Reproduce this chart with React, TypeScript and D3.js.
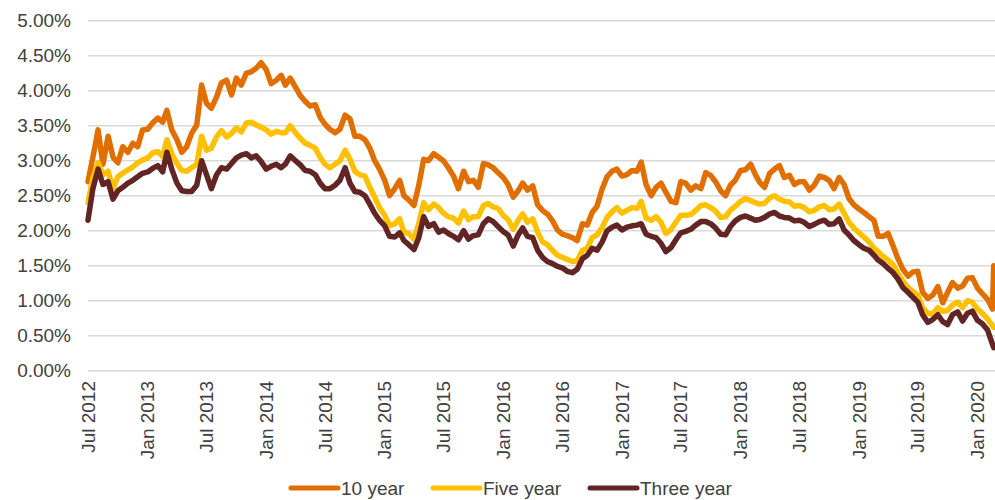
import React from "react";
import * as d3 from "d3";

const dates = [
  "2012-07-01","2012-07-16","2012-08-01","2012-08-16","2012-09-01","2012-09-16","2012-10-01","2012-10-16","2012-11-01","2012-11-16","2012-12-01","2012-12-16",
  "2013-01-01","2013-01-16","2013-02-01","2013-02-16","2013-03-01","2013-03-16","2013-04-01","2013-04-16","2013-05-01","2013-05-16","2013-06-01","2013-06-16",
  "2013-07-01","2013-07-16","2013-08-01","2013-08-16","2013-09-01","2013-09-16","2013-10-01","2013-10-16","2013-11-01","2013-11-16","2013-12-01","2013-12-16",
  "2014-01-01","2014-01-16","2014-02-01","2014-02-16","2014-03-01","2014-03-16","2014-04-01","2014-04-16","2014-05-01","2014-05-16","2014-06-01","2014-06-16",
  "2014-07-01","2014-07-16","2014-08-01","2014-08-16","2014-09-01","2014-09-16","2014-10-01","2014-10-16","2014-11-01","2014-11-16","2014-12-01","2014-12-16",
  "2015-01-01","2015-01-16","2015-02-01","2015-02-16","2015-03-01","2015-03-16","2015-04-01","2015-04-16","2015-05-01","2015-05-16","2015-06-01","2015-06-16",
  "2015-07-01","2015-07-16","2015-08-01","2015-08-16","2015-09-01","2015-09-16","2015-10-01","2015-10-16","2015-11-01","2015-11-16","2015-12-01","2015-12-16",
  "2016-01-01","2016-01-16","2016-02-01","2016-02-16","2016-03-01","2016-03-16","2016-04-01","2016-04-16","2016-05-01","2016-05-16","2016-06-01","2016-06-16",
  "2016-07-01","2016-07-16","2016-08-01","2016-08-16","2016-09-01","2016-09-16","2016-10-01","2016-10-16","2016-11-01","2016-11-16","2016-12-01","2016-12-16",
  "2017-01-01","2017-01-16","2017-02-01","2017-02-16","2017-03-01","2017-03-16","2017-04-01","2017-04-16","2017-05-01","2017-05-16","2017-06-01","2017-06-16",
  "2017-07-01","2017-07-16","2017-08-01","2017-08-16","2017-09-01","2017-09-16","2017-10-01","2017-10-16","2017-11-01","2017-11-16","2017-12-01","2017-12-16",
  "2018-01-01","2018-01-16","2018-02-01","2018-02-16","2018-03-01","2018-03-16","2018-04-01","2018-04-16","2018-05-01","2018-05-16","2018-06-01","2018-06-16",
  "2018-07-01","2018-07-16","2018-08-01","2018-08-16","2018-09-01","2018-09-16","2018-10-01","2018-10-16","2018-11-01","2018-11-16","2018-12-01","2018-12-16",
  "2019-01-01","2019-01-16","2019-02-01","2019-02-16","2019-03-01","2019-03-16","2019-04-01","2019-04-16","2019-05-01","2019-05-16","2019-06-01","2019-06-16",
  "2019-07-01","2019-07-16","2019-08-01","2019-08-16","2019-09-01","2019-09-16","2019-10-01","2019-10-16","2019-11-01","2019-11-16","2019-12-01","2019-12-16",
  "2020-01-01","2020-01-16","2020-02-01","2020-02-16","2020-02-20",
];

const tenYear = [
  2.70,3.05,3.44,2.95,3.35,3.05,2.97,3.20,3.12,3.25,3.20,3.44,
  3.45,3.54,3.61,3.55,3.72,3.44,3.30,3.12,3.20,3.39,3.51,4.08,
  3.82,3.75,3.91,4.11,4.15,3.94,4.18,4.08,4.25,4.27,4.32,4.40,
  4.30,4.10,4.15,4.22,4.08,4.18,4.05,3.93,3.85,3.78,3.80,3.62,
  3.52,3.45,3.40,3.45,3.65,3.60,3.35,3.35,3.30,3.18,3.00,2.88,
  2.72,2.50,2.60,2.72,2.50,2.44,2.36,2.65,3.02,3.00,3.10,3.05,
  3.00,2.90,2.78,2.60,2.85,2.70,2.72,2.62,2.96,2.94,2.90,2.83,
  2.76,2.66,2.48,2.57,2.68,2.58,2.64,2.37,2.29,2.24,2.14,2.01,
  1.95,1.93,1.90,1.86,2.10,2.08,2.26,2.35,2.60,2.77,2.85,2.88,
  2.78,2.80,2.86,2.85,2.98,2.66,2.50,2.62,2.68,2.55,2.42,2.40,
  2.70,2.68,2.58,2.64,2.60,2.83,2.79,2.70,2.57,2.50,2.65,2.72,
  2.86,2.87,2.95,2.80,2.69,2.62,2.82,2.88,2.93,2.76,2.79,2.66,
  2.70,2.70,2.58,2.65,2.78,2.76,2.72,2.60,2.76,2.66,2.46,2.37,
  2.31,2.26,2.20,2.15,1.92,1.92,1.96,1.78,1.60,1.45,1.35,1.41,
  1.42,1.12,1.03,1.08,1.20,0.97,1.12,1.26,1.18,1.21,1.32,1.33,
  1.18,1.10,1.02,0.88,1.50,
];

const fiveYear = [
  2.40,2.75,2.97,2.80,2.85,2.60,2.77,2.82,2.87,2.91,2.97,3.01,
  3.04,3.11,3.13,3.06,3.30,3.10,2.96,2.86,2.85,2.90,2.95,3.35,
  3.15,3.18,3.34,3.43,3.34,3.39,3.47,3.41,3.54,3.55,3.51,3.48,
  3.44,3.38,3.42,3.40,3.40,3.50,3.40,3.32,3.25,3.22,3.18,3.05,
  2.95,2.90,2.95,3.00,3.15,3.02,2.85,2.80,2.78,2.62,2.48,2.33,
  2.22,2.07,2.10,2.17,1.98,1.96,1.88,2.10,2.40,2.30,2.38,2.33,
  2.25,2.20,2.18,2.11,2.28,2.16,2.20,2.20,2.36,2.39,2.34,2.32,
  2.22,2.16,2.02,2.15,2.24,2.12,2.17,1.98,1.84,1.80,1.72,1.65,
  1.62,1.59,1.56,1.57,1.72,1.75,1.90,1.94,2.05,2.19,2.27,2.33,
  2.25,2.29,2.33,2.32,2.42,2.18,2.15,2.20,2.12,1.96,2.02,2.12,
  2.22,2.22,2.23,2.29,2.36,2.37,2.33,2.28,2.19,2.20,2.29,2.35,
  2.42,2.46,2.43,2.40,2.38,2.39,2.47,2.50,2.45,2.42,2.41,2.35,
  2.36,2.33,2.27,2.29,2.34,2.36,2.30,2.31,2.38,2.25,2.12,2.04,
  1.97,1.91,1.84,1.75,1.70,1.63,1.58,1.51,1.39,1.28,1.19,1.13,
  1.08,0.90,0.82,0.81,0.90,0.85,0.86,0.94,0.98,0.90,1.00,0.98,
  0.88,0.82,0.74,0.64,0.62,
];

const threeYear = [
  2.15,2.60,2.88,2.66,2.70,2.45,2.57,2.62,2.68,2.72,2.77,2.82,
  2.84,2.89,2.93,2.84,3.12,2.88,2.68,2.57,2.56,2.56,2.65,3.00,
  2.80,2.60,2.80,2.90,2.88,2.96,3.04,3.08,3.10,3.04,3.07,2.99,
  2.88,2.92,2.95,2.90,2.95,3.07,3.00,2.94,2.86,2.85,2.80,2.68,
  2.60,2.60,2.65,2.72,2.90,2.68,2.56,2.55,2.50,2.38,2.25,2.15,
  2.07,1.92,1.91,1.97,1.86,1.80,1.73,1.90,2.20,2.06,2.10,1.98,
  2.01,1.96,1.92,1.87,2.00,1.88,1.93,1.94,2.10,2.17,2.13,2.06,
  1.99,1.94,1.78,1.94,2.04,1.92,1.90,1.72,1.62,1.56,1.53,1.49,
  1.47,1.42,1.40,1.45,1.60,1.65,1.75,1.72,1.84,2.00,2.05,2.08,
  2.01,2.05,2.07,2.08,2.10,1.95,1.92,1.90,1.82,1.70,1.76,1.87,
  1.97,1.99,2.02,2.08,2.13,2.13,2.10,2.04,1.95,1.94,2.06,2.14,
  2.19,2.21,2.18,2.15,2.16,2.19,2.24,2.26,2.21,2.19,2.18,2.14,
  2.15,2.12,2.06,2.09,2.13,2.15,2.09,2.10,2.17,2.01,1.94,1.86,
  1.80,1.75,1.72,1.65,1.58,1.53,1.46,1.40,1.31,1.19,1.12,1.05,
  0.98,0.80,0.69,0.73,0.80,0.70,0.66,0.80,0.84,0.71,0.82,0.85,
  0.72,0.67,0.58,0.38,0.33,
];

const yTicks = [0, 0.5, 1, 1.5, 2, 2.5, 3, 3.5, 4, 4.5, 5];
const xTickLabels = [
  "Jul 2012","Jan 2013","Jul 2013","Jan 2014","Jul 2014","Jan 2015","Jul 2015","Jan 2016",
  "Jul 2016","Jan 2017","Jul 2017","Jan 2018","Jul 2018","Jan 2019","Jul 2019","Jan 2020",
];
const seriesNames = ["10 year", "Five year", "Three year"];
const seriesColors = ["#E06F00", "#FFC000", "#632523"];
const seriesValues = [tenYear, fiveYear, threeYear];

const FONT = "'Liberation Sans', Arial, Helvetica, sans-serif";
const TEXT = "#404040";

export default function App() {
  const W = 995, H = 500;
  const parseDate = d3.timeParse("%Y-%m-%d");
  const parseTick = d3.timeParse("%b %Y");
  const dateObjs = dates.map((d) => parseDate(d) as Date);

  const x = d3.scaleTime()
    .domain([parseTick("Jul 2012") as Date, parseTick("Jan 2020") as Date])
    .range([88, 977.5]);
  const y = d3.scaleLinear().domain([0, 5]).range([370.7, 20.7]);

  const line = d3.line<number>()
    .x((_, i) => x(dateObjs[i]))
    .y((v) => y(v));

  const legendX = [291, 433, 590];

  return (
    <div style={{ position: "fixed", left: 0, top: 0, width: W, height: H, background: "#fff" }}>
      <svg width={W} height={H} style={{ display: "block" }} fontFamily={FONT}>
        <rect width={W} height={H} fill="#fff" />
        {yTicks.map((t) => (
          <g key={t}>
            <line x1={88} x2={W} y1={y(t)} y2={y(t)} stroke="#D9D9D9" strokeWidth={1.5} />
            <text x={71} y={y(t)} dy="0.35em" textAnchor="end" fontSize={19} fill={TEXT}>
              {d3.format(".2f")(t) + "%"}
            </text>
          </g>
        ))}
        {xTickLabels.map((lbl) => {
          const xx = x(parseTick(lbl) as Date);
          return (
            <text key={lbl} transform={`translate(${xx},381) rotate(-90)`} dy="0.35em"
              textAnchor="end" fontSize={19} fill={TEXT}>{lbl}</text>
          );
        })}
        {seriesValues.map((vals, k) => (
          <path key={k} d={line(vals) || ""} fill="none" stroke={seriesColors[k]}
            strokeWidth={5.5} strokeLinejoin="round" strokeLinecap="round" />
        ))}
        {seriesNames.map((name, k) => (
          <g key={name}>
            <line x1={legendX[k]} x2={legendX[k] + 47} y1={488} y2={488}
              stroke={seriesColors[k]} strokeWidth={5} strokeLinecap="round" />
            <text x={legendX[k] + 50} y={488} dy="0.35em" fontSize={19} fill={TEXT}>{name}</text>
          </g>
        ))}
      </svg>
    </div>
  );
}
